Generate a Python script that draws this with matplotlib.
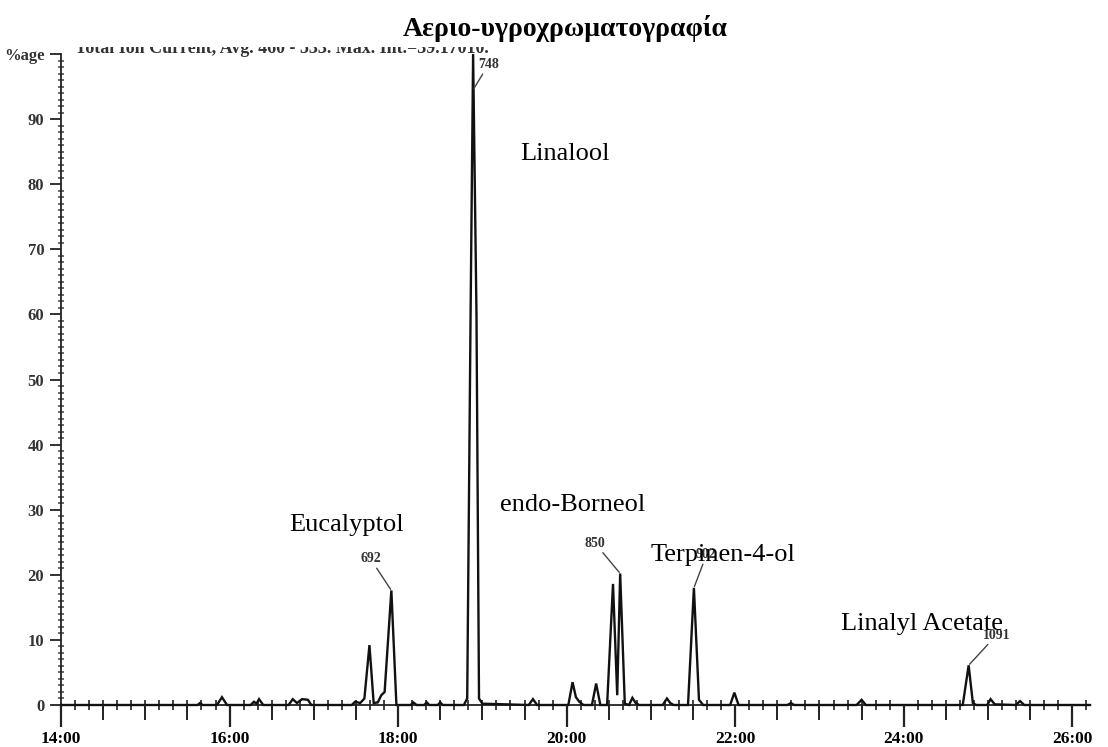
import matplotlib
matplotlib.use("Agg")
import matplotlib.pyplot as plt
from matplotlib.patches import Rectangle
from matplotlib.ticker import MultipleLocator, FixedLocator

plt.rcParams['font.family'] = ['Liberation Serif', 'DejaVu Serif']

# ---------------- data ----------------
# retention time (minutes) and relative abundance (%) of the trace vertices
trace_time = [
    14.00, 15.62, 15.65, 15.68, 15.85, 15.91, 15.97,
    16.25, 16.29, 16.32, 16.35, 16.40,
    16.70, 16.75, 16.80, 16.86, 16.93, 16.97,
    17.45, 17.49, 17.55, 17.60, 17.66, 17.71, 17.76, 17.80, 17.84, 17.92, 17.98,
    18.15, 18.18, 18.22, 18.31, 18.34, 18.37, 18.47, 18.50, 18.53,
    18.78, 18.82, 18.86, 18.89, 18.93, 18.96, 19.00,
    19.55, 19.60, 19.65,
    20.02, 20.07, 20.11, 20.15, 20.20,
    20.30, 20.35, 20.40,
    20.48, 20.55, 20.60, 20.635, 20.69,
    20.74, 20.78, 20.82, 20.86,
    21.14, 21.19, 21.23, 21.27,
    21.44, 21.51, 21.57, 21.62,
    21.94, 21.99, 22.04,
    22.62, 22.66, 22.70,
    23.44, 23.50, 23.55,
    24.70, 24.77, 24.82, 24.86,
    24.99, 25.03, 25.08,
    25.33, 25.38, 25.43,
    26.21,
]
trace_abund = [
    0.0, 0.0, 0.3, 0.0, 0.0, 1.2, 0.0,
    0.0, 0.5, 0.2, 0.9, 0.0,
    0.0, 0.9, 0.3, 0.9, 0.8, 0.0,
    0.0, 0.5, 0.3, 1.0, 9.2, 0.3, 0.4, 1.5, 2.0, 17.6, 0.0,
    0.0, 0.4, 0.0, 0.0, 0.4, 0.0, 0.0, 0.4, 0.0,
    0.0, 1.0, 60.0, 100.0, 60.0, 1.0, 0.2,
    0.0, 0.9, 0.0,
    0.0, 3.5, 1.2, 0.5, 0.0,
    0.0, 3.3, 0.0,
    0.0, 18.6, 1.5, 20.2, 0.2,
    0.0, 1.1, 0.3, 0.0,
    0.0, 1.0, 0.3, 0.0,
    0.0, 18.0, 0.8, 0.0,
    0.0, 1.9, 0.0,
    0.0, 0.3, 0.0,
    0.0, 0.8, 0.0,
    0.0, 6.1, 0.3, 0.0,
    0.0, 0.9, 0.1,
    0.0, 0.6, 0.0,
    0.0,
]

# labelled peaks: scan number, retention time, apex height
peak_scans = ["748", "692", "850", "902", "1091"]
peak_times = [18.89, 17.92, 20.635, 21.51, 24.77]
peak_heights = [100.0, 17.6, 20.2, 18.0, 6.1]

compound_names = ["Linalool", "Eucalyptol", "endo-Borneol", "Terpinen-4-ol", "Linalyl Acetate"]

x_ticks = [14, 16, 18, 20, 22, 24, 26]
x_tick_labels = ["14:00", "16:00", "18:00", "20:00", "22:00", "24:00", "26:00"]
y_ticks = [0, 10, 20, 30, 40, 50, 60, 70, 80, 90, 100]
y_tick_labels = ["0", "10", "20", "30", "40", "50", "60", "70", "80", "90", "%age"]

title = "Αεριο-υγροχρωματογραφία"
header = "Total Ion Current, Avg. 460 - 533. Max. Int.=39.17010."

# ---------------- figure ----------------
W, H = 1108, 747
fig = plt.figure(figsize=(W / 100, H / 100), dpi=100)
fig.patch.set_facecolor("white")
ax = fig.add_axes([61 / W, 42 / H, (1090 - 61) / W, (705 - 54) / H])

ax.plot(trace_time, trace_abund, color="#111111", lw=1.7, clip_on=False,
        solid_joinstyle="miter", zorder=3)

ax.set_xlim(14, 26.21)
ax.set_ylim(0, 100)

for s in ("top", "right"):
    ax.spines[s].set_visible(False)
for s in ("left", "bottom"):
    ax.spines[s].set_linewidth(1.3)
    ax.spines[s].set_color("#222222")

# x ticks
ax.xaxis.set_major_locator(FixedLocator(x_ticks))
ax.set_xticklabels(x_tick_labels)
ax.xaxis.set_minor_locator(MultipleLocator(1 / 6))
ax.tick_params(axis="x", which="major", direction="out", length=16, width=1.6,
               color="#222222", pad=3, labelsize=12.5)
ax.tick_params(axis="x", which="minor", direction="inout", length=7, width=1.3,
               color="#333333")
for lbl in ax.get_xticklabels():
    lbl.set_fontweight("bold")

# medium ticks every 30 s on a twin axis
ax2 = ax.twiny()
ax2.set_xlim(ax.get_xlim())
ax2.xaxis.set_ticks_position("bottom")
for s in ax2.spines.values():
    s.set_visible(False)
ax2.xaxis.set_major_locator(MultipleLocator(0.5))
ax2.tick_params(axis="x", which="major", direction="out", length=11, width=1.4,
                color="#222222", labelbottom=False, labeltop=False)
ax2.set_yticks([])

# y ticks
ax.yaxis.set_major_locator(FixedLocator(y_ticks))
ax.set_yticklabels(y_tick_labels)
ax.yaxis.set_minor_locator(MultipleLocator(1))
ax.tick_params(axis="y", which="major", direction="out", length=8, width=1.3,
               color="#222222", pad=4, labelsize=12)
ax.tick_params(axis="y", which="minor", direction="inout", length=4, width=1.1,
               color="#444444")
for lbl in ax.get_yticklabels():
    lbl.set_fontweight("bold")
    lbl.set_color("#333333")

# compound names
name_pos = [(19.45, 84.7), (16.71, 27.6), (19.21, 30.7), (20.99, 23.0), (23.25, 12.4)]
for name, (tx, ty) in zip(compound_names, name_pos):
    ax.text(tx, ty, name, fontsize=19, ha="left", va="center", zorder=5)

# scan-number labels with leader lines (the 748 leader meets the peak below its apex)
label_offsets = [(11, 18), (-15, 18), (-18, 17), (9, 19), (20, 17)]
leader_drop = [5.5, 0.0, 0.0, 0.0, 0.0]
label_va = ["center", "bottom", "bottom", "bottom", "bottom"]
for scan, pt, ph, off, drop, va in zip(peak_scans, peak_times, peak_heights,
                                       label_offsets, leader_drop, label_va):
    ax.annotate(scan, xy=(pt, ph - drop), xytext=off,
                textcoords="offset points",
                ha="center", va=va, fontsize=10, fontweight="bold",
                color="#333333",
                arrowprops=dict(arrowstyle="-", color="#444444", lw=1.0,
                                shrinkA=0, shrinkB=1),
                annotation_clip=False, zorder=4)

# header line partly hidden behind the title band
fig.text(75 / W, 1 - 53 / H, header, fontsize=13, fontweight="bold",
         color="#333333", ha="left", va="baseline", zorder=2)
fig.patches.append(Rectangle((0, 1 - 47 / H), 1, 47 / H, transform=fig.transFigure,
                             facecolor="white", edgecolor="none", zorder=2.5))
fig.text(565 / W, 1 - 36 / H, title, fontsize=20, fontweight="bold",
         ha="center", va="baseline", zorder=3)

fig.savefig("out.png", dpi=100, facecolor="white")
